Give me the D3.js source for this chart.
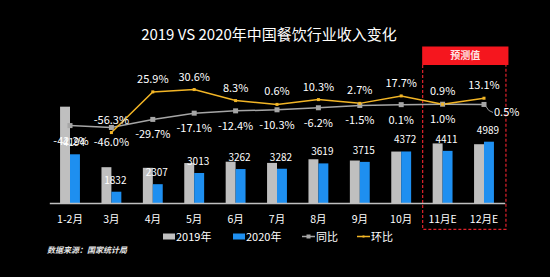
<!DOCTYPE html>
<html>
<head>
<meta charset="utf-8">
<script src="https://cdn.jsdelivr.net/npm/d3@7"></script>
<style>
  body { margin: 0; background: #000; }
  svg { display: block; font-family: "Noto Sans CJK SC", "Noto Sans", sans-serif; }
  .bar-label, .pct-label, .x-label, .legend-text { fill: #fff; }
</style>
</head>
<body>
<div id="chart"></div>
<script>
// categories and series
const months = ['1-2月', '3月', '4月', '5月', '6月', '7月', '8月', '9月', '10月', '11月E', '12月E'];
const rev2019 = [7200, 3380, 3340, 3640, 3726, 3650, 3880, 3800, 4367, 4880, 4830];
const rev2020 = [4194, 1832, 2307, 3013, 3262, 3282, 3619, 3715, 4372, 4411, 4989];
const yoy = [-42.2, -46.0, -29.7, -17.1, -12.4, -10.3, -6.2, -1.5, 0.1, 1.0, 0.5];
const mom = [null, -56.3, 25.9, 30.6, 8.3, 0.6, 10.3, 2.7, 17.7, 0.9, 13.1];
const forecastMonths = ['11月E', '12月E'];

const width = 550, height = 277;
const svg = d3.select('#chart').append('svg').attr('width', width).attr('height', height);
svg.append('rect').attr('width', width).attr('height', height).attr('fill', '#000');

// scales
const x = d3.scaleBand().domain(months).range([49.3, 504.7]).paddingInner(0.52).paddingOuter(0.26);
const x1 = d3.scaleBand().domain(['2019', '2020']).range([0, x.bandwidth()]);
const yBar = d3.scaleLinear().domain([1119, 8000]).range([203, 203 - 0.01584 * (8000 - 1119)]);
const yPct = d3.scaleLinear().domain([-60, 40]).range([104.7 + 0.495 * 60, 104.7 - 0.495 * 40]);
const cx = d => x(d) + x.bandwidth() / 2;

// title
svg.append('text').attr('x', 269).attr('y', 40).attr('text-anchor', 'middle')
    .attr('fill', '#fff').attr('font-size', 15).text('2019 VS 2020年中国餐饮行业收入变化');

// forecast box
const fx0 = x(forecastMonths[0]) - 10, fx1 = x(forecastMonths[1]) + x.bandwidth() + 12;
svg.append('rect').attr('x', fx0 - 0.5).attr('y', 46.5).attr('width', fx1 - fx0 + 3).attr('height', 18.5).attr('fill', '#f5161e');
svg.append('text').attr('x', (fx0 + fx1) / 2 + 1).attr('y', 59).attr('text-anchor', 'middle')
    .attr('fill', '#ffe6e6').attr('font-size', 10).attr('font-weight', 'bold').text('预测值');
svg.append('path').attr('d', `M${fx0},65V229.3H${fx1}V65`)
    .attr('fill', 'none').attr('stroke', '#e0232b').attr('stroke-width', 1.2).attr('stroke-dasharray', '3,2');

// bars
const groups = svg.append('g').selectAll('g').data(months).join('g')
    .attr('transform', d => `translate(${x(d)},0)`);
groups.append('rect').attr('x', x1('2019')).attr('width', x1.bandwidth())
    .attr('y', (d, i) => yBar(rev2019[i])).attr('height', (d, i) => yBar.range()[0] - yBar(rev2019[i]))
    .attr('fill', '#bfbfbf');
groups.append('rect').attr('x', x1('2020')).attr('width', x1.bandwidth())
    .attr('y', (d, i) => yBar(rev2020[i])).attr('height', (d, i) => yBar.range()[0] - yBar(rev2020[i]))
    .attr('fill', '#1e8ff0');

// x axis
const axis = svg.append('g').attr('transform', 'translate(0,203)')
    .call(d3.axisBottom(x).tickSize(0).tickPadding(13));
axis.select('.domain').attr('stroke', '#bfbfbf').attr('stroke-width', 1.5);
axis.selectAll('text').attr('class', 'x-label').attr('font-size', 10.5)
    .attr('font-family', '"Noto Sans CJK SC", sans-serif');

// lines
const yoyPts = months.map((m, i) => [cx(m), yPct(yoy[i])]);
const momPts = months.map((m, i) => mom[i] === null ? null : [cx(m), yPct(mom[i])]).filter(p => p);
const line = d3.line();
svg.append('path').attr('d', line(yoyPts)).attr('fill', 'none').attr('stroke', '#a6a6a6').attr('stroke-width', 1.5);
svg.append('path').attr('d', line(momPts)).attr('fill', 'none').attr('stroke', '#f2b526').attr('stroke-width', 1.5);
svg.append('g').selectAll('rect').data(yoyPts).join('rect')
    .attr('x', d => d[0] - 2.5).attr('y', d => d[1] - 2.5).attr('width', 5).attr('height', 5).attr('fill', '#a6a6a6');
svg.append('g').selectAll('rect').data(momPts).join('rect')
    .attr('x', d => d[0] - 1.5).attr('y', d => d[1] - 1.5).attr('width', 3).attr('height', 3).attr('fill', '#f2b526');

// percentage labels
const fmt = v => v.toFixed(1) + '%';
months.forEach((m, i) => {
    if (mom[i] !== null) {
        svg.append('text').attr('class', 'pct-label').attr('x', cx(m)).attr('y', yPct(mom[i]) - 9)
            .attr('text-anchor', 'middle').attr('font-size', 11).text(fmt(mom[i]));
    }
    if (i === months.length - 1) {
        const px = cx(m), py = yPct(yoy[i]);
        svg.append('path').attr('d', `M${px + 2},${py + 2}Q${px + 4},${py + 7} ${px + 9},${py + 8}`)
            .attr('fill', 'none').attr('stroke', '#bfbfbf').attr('stroke-width', 0.8);
        svg.append('text').attr('class', 'pct-label').attr('x', px + 10).attr('y', py + 12)
            .attr('font-size', 11).text(fmt(yoy[i]));
    } else {
        svg.append('text').attr('class', 'pct-label').attr('x', cx(m) + (i === 0 ? 1 : 0)).attr('y', yPct(yoy[i]) + 19)
            .attr('text-anchor', 'middle').attr('font-size', 11).text(fmt(yoy[i]));
    }
});

// bar value labels (2020)
svg.append('g').selectAll('text').data(months).join('text').attr('class', 'bar-label')
    .attr('x', d => x(d) + x1('2020') + x1.bandwidth() / 2 - 1)
    .attr('y', (d, i) => yBar(rev2020[i]) - 8)
    .attr('text-anchor', 'middle').attr('font-size', 10)
    .text((d, i) => rev2020[i]);

// legend
const legend = svg.append('g').attr('transform', 'translate(0,236.5)');
legend.append('rect').attr('x', 163).attr('y', -3).attr('width', 12).attr('height', 6).attr('fill', '#bfbfbf');
legend.append('text').attr('class', 'legend-text').attr('x', 176).attr('y', 4).attr('font-size', 11).text('2019年');
legend.append('rect').attr('x', 233).attr('y', -3).attr('width', 12).attr('height', 6).attr('fill', '#1e8ff0');
legend.append('text').attr('class', 'legend-text').attr('x', 246).attr('y', 4).attr('font-size', 11).text('2020年');
legend.append('line').attr('x1', 302).attr('x2', 315).attr('y1', 0).attr('y2', 0).attr('stroke', '#a6a6a6').attr('stroke-width', 1.5);
legend.append('rect').attr('x', 306.5).attr('y', -2).attr('width', 4).attr('height', 4).attr('fill', '#a6a6a6');
legend.append('text').attr('class', 'legend-text').attr('x', 316).attr('y', 4).attr('font-size', 11).text('同比');
legend.append('line').attr('x1', 357).attr('x2', 370).attr('y1', 0).attr('y2', 0).attr('stroke', '#f2b526').attr('stroke-width', 1.5);
legend.append('rect').attr('x', 362.5).attr('y', -1).attr('width', 2).attr('height', 2).attr('fill', '#f2b526');
legend.append('text').attr('class', 'legend-text').attr('x', 371).attr('y', 4).attr('font-size', 11).text('环比');

// source note
svg.append('text').attr('x', 47).attr('y', 253).attr('fill', '#e6e6e6').attr('font-size', 8)
    .attr('font-style', 'italic').attr('font-weight', 'bold').text('数据来源：国家统计局');
</script>
</body>
</html>
